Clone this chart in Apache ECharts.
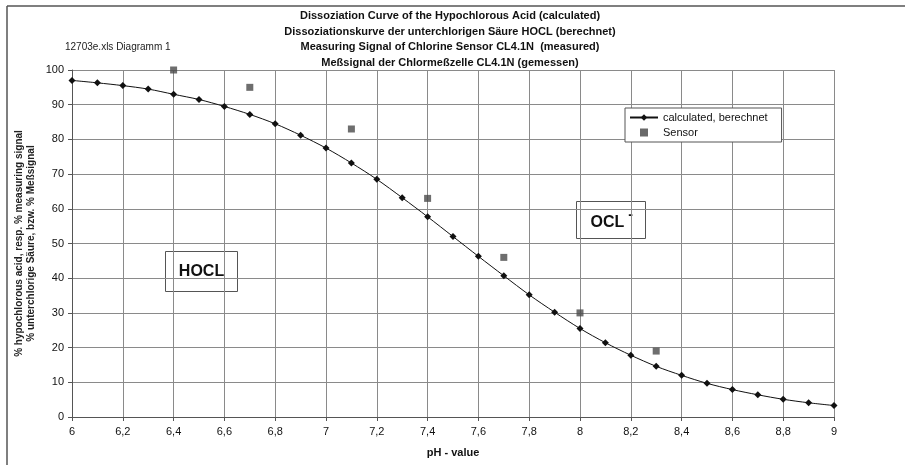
<!DOCTYPE html>
<html><head><meta charset="utf-8">
<script src="https://cdn.jsdelivr.net/npm/echarts@6/dist/echarts.min.js"></script>
<style>html,body{margin:0;padding:0;background:#fff}#c{width:905px;height:465px}</style>
</head><body><div id="c"></div>
<script>
var phValues = [6.0,6.1,6.2,6.3,6.4,6.5,6.6,6.7,6.8,6.9,7.0,7.1,7.2,7.3,7.4,7.5,7.6,7.7,7.8,7.9,8.0,8.1,8.2,8.3,8.4,8.5,8.6,8.7,8.8,8.9,9.0];
var calculated = [97,96.3,95.5,94.5,93,91.5,89.5,87.2,84.5,81.2,77.5,73.2,68.5,63.2,57.7,52,46.3,40.7,35.2,30.2,25.5,21.4,17.8,14.6,12,9.7,7.9,6.4,5.1,4.1,3.3];
var sensorPh = [6.4,6.7,7.1,7.4,7.7,8.0,8.3];
var sensorValues = [100,95,83,63,46,30,19];
var titleLines = ['Dissoziation Curve of the Hypochlorous Acid (calculated)','Dissoziationskurve der unterchlorigen Säure HOCL (berechnet)','Measuring Signal of Chlorine Sensor CL4.1N  (measured)','Meßsignal der Chlormeßzelle CL4.1N (gemessen)'];

var chart = echarts.init(document.getElementById('c'));
var font = 'Liberation Sans, Arial, sans-serif';
chart.setOption({
  animation:false,
  backgroundColor:'#fff',
  textStyle:{fontFamily:font},
  title:{text:titleLines.join('\n'),left:445,textAlign:'center',top:3,textStyle:{fontSize:11,fontWeight:'bold',color:'#111',lineHeight:15.7,fontFamily:font}},
  legend:{
    left:625, top:108, orient:'vertical', itemGap:4, itemWidth:28, itemHeight:8,
    borderColor:'#555', borderWidth:1, padding:[4,14,4,4], backgroundColor:'#fff',
    textStyle:{fontSize:11,color:'#111',fontFamily:font},
    data:[{name:'calculated, berechnet'},{name:'Sensor',icon:'path://M0,0h1v1h-1z',itemStyle:{color:'#444'}}]
  },
  grid:{left:72,right:71,top:70,bottom:48,containLabel:false},
  xAxis:{type:'value',min:6,max:9,interval:0.2,
    name:'pH - value',nameLocation:'middle',nameGap:30,
    nameTextStyle:{fontSize:11,fontWeight:'bold',color:'#111',fontFamily:font},
    axisLine:{lineStyle:{color:'#555',width:1}},
    axisTick:{show:true,length:4,lineStyle:{color:'#555'}},
    axisLabel:{fontSize:11,color:'#111',margin:9,formatter:function(v){return (Math.round(v*10)/10).toString().replace('.',',');}},
    splitLine:{show:true,lineStyle:{color:'#8a8a8a',width:1}}
  },
  yAxis:{type:'value',min:0,max:100,interval:10,
    name:'% hypochlorous acid, resp. % measuring signal\n% unterchlorige Säure, bzw. % Meßsignal',
    nameLocation:'middle',nameGap:35,nameRotate:90,nameMoveOverlap:false,
    nameTextStyle:{fontSize:10,fontWeight:'bold',color:'#222',lineHeight:12,fontFamily:font},
    axisLine:{show:true,lineStyle:{color:'#555',width:1}},
    axisTick:{show:true,length:4,lineStyle:{color:'#555'}},
    axisLabel:{fontSize:11,color:'#111',margin:8},
    splitLine:{show:true,lineStyle:{color:'#8a8a8a',width:1}}
  },
  series:[
    {name:'calculated, berechnet',type:'line',smooth:0.3,
     data:phValues.map(function(p,i){return [p,calculated[i]];}),
     symbol:'diamond',symbolSize:7,showAllSymbol:true,
     lineStyle:{color:'#111',width:1},itemStyle:{color:'#111'},z:3},
    {name:'Sensor',type:'scatter',
     data:sensorPh.map(function(p,i){return [p,sensorValues[i]];}),
     symbol:'rect',symbolSize:7,itemStyle:{color:'#4a4a4a'},z:4}
  ],
  graphic:[
    {type:'line',shape:{x1:7,y1:6,x2:905,y2:6},style:{stroke:'#555',lineWidth:1.5},silent:true},
    {type:'line',shape:{x1:7,y1:6,x2:7,y2:465},style:{stroke:'#555',lineWidth:1.5},silent:true},
    {type:'text',left:65,top:42,style:{text:'12703e.xls Diagramm 1',fontSize:10,fill:'#222',fontFamily:font}},
    {type:'group',left:165,top:251,children:[
      {type:'rect',shape:{width:72,height:40},style:{fill:'#fff',stroke:'#555',lineWidth:1}},
      {type:'text',x:36,y:20,style:{text:'HOCL',fontSize:16,fontWeight:'bold',fill:'#111',align:'center',verticalAlign:'middle',fontFamily:font}}
    ],z:10},
    {type:'group',left:576,top:201,children:[
      {type:'rect',shape:{width:69,height:37},style:{fill:'#fff',stroke:'#555',lineWidth:1}},
      {type:'text',x:31,y:21,style:{text:'OCL',fontSize:16,fontWeight:'bold',fill:'#111',align:'center',verticalAlign:'middle',fontFamily:font}},
      {type:'text',x:54,y:14,style:{text:'-',fontSize:14,fontWeight:'bold',fill:'#111',align:'center',verticalAlign:'middle',fontFamily:font}}
    ],z:10}
  ]
});
</script></body></html>
